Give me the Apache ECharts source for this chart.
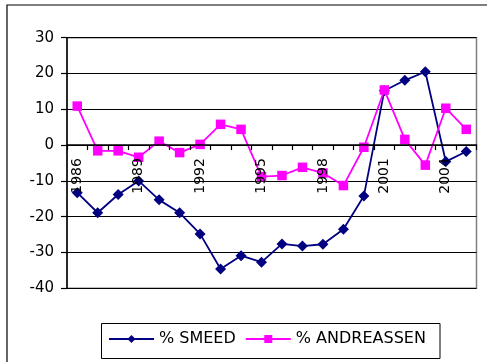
<!DOCTYPE html>
<html>
<head>
<meta charset="utf-8">
<script src="https://cdn.jsdelivr.net/npm/echarts@6/dist/echarts.min.js"></script>
<style>
  html, body { margin: 0; padding: 0; background: #fff; }
  #chart { width: 487px; height: 362px; }
</style>
</head>
<body>
<div id="chart"></div>
<script>
// Years on the category axis
var years = ['1986', '1987', '1988', '1989', '1990', '1991', '1992', '1993', '1994', '1995',
             '1996', '1997', '1998', '1999', '2000', '2001', '2002', '2003', '2004', '2005'];

// Percentage series
var smeed = [-13.3, -18.9, -13.8, -10.0, -15.3, -18.9, -24.8, -34.6, -30.9, -32.7,
             -27.6, -28.2, -27.7, -23.5, -14.2, 15.2, 18.1, 20.5, -4.6, -1.8];
var andreassen = [10.9, -1.6, -1.6, -3.4, 1.1, -2.1, 0.2, 5.8, 4.4, -8.8,
                  -8.5, -6.2, -7.8, -11.3, -0.6, 15.4, 1.6, -5.6, 10.3, 4.4];

// Value axis range
var yMin = -40, yMax = 30, yStep = 10;

var FONT = 'DejaVu Sans, Liberation Sans, Arial, sans-serif';

var GRID_TOP = 37.7, GRID_BOTTOM = 73.7, CHART_H = 362;
var plotH = CHART_H - GRID_TOP - GRID_BOTTOM;
// distance of the zero line above the bottom edge of the plot
var zeroLift = plotH * (0 - yMin) / (yMax - yMin);

var chart = echarts.init(document.getElementById('chart'), null, { renderer: 'canvas' });

chart.setOption({
  animation: false,
  backgroundColor: '#ffffff',
  textStyle: { fontFamily: FONT },
  grid: { left: 67, right: 10.5, top: GRID_TOP, bottom: GRID_BOTTOM, show: true,
          borderColor: '#808080', borderWidth: 1.5, backgroundColor: 'transparent' },
  graphic: [
    { type: 'rect', z: 0, shape: { x: 7, y: 5, width: 490, height: 370 },
      style: { fill: 'none', stroke: '#000', lineWidth: 1.2 } },
    { type: 'rect', z: 0, shape: { x: 101.5, y: 323.5, width: 338.5, height: 35 },
      style: { fill: '#fff', stroke: '#000', lineWidth: 1 } }
  ],
  legend: {
    left: 108, top: 331, itemGap: 9, itemWidth: 45, itemHeight: 10,
    padding: 0,
    textStyle: { fontFamily: FONT, fontSize: 16, color: '#000' },
    data: ['% SMEED', '% ANDREASSEN']
  },
  xAxis: {
    type: 'category',
    data: years,
    boundaryGap: true,
    z: 5,
    offset: -zeroLift,
    axisLine: { onZero: false, lineStyle: { color: '#000', width: 1.5 } },
    axisTick: { show: true, interval: 0, length: 5, lineStyle: { color: '#000', width: 1.2 } },
    axisLabel: { interval: 2, rotate: 90, margin: 13, fontSize: 14, color: '#000', fontFamily: FONT },
    splitLine: { show: false }
  },
  yAxis: {
    type: 'value',
    min: yMin, max: yMax, interval: yStep,
    axisLine: { show: true, lineStyle: { color: '#000', width: 1.5 } },
    axisTick: { show: true, length: 6, lineStyle: { color: '#000', width: 1.2 } },
    axisLabel: { margin: 13, fontSize: 15, color: '#000', fontFamily: FONT },
    splitLine: { show: true, lineStyle: { color: '#000', width: 1 } }
  },
  series: [
    {
      name: '% SMEED', type: 'line', data: smeed,
      symbol: 'diamond', symbolSize: 11,
      lineStyle: { color: '#000080', width: 1.8 },
      itemStyle: { color: '#000080', borderWidth: 0 },
      z: 3
    },
    {
      name: '% ANDREASSEN', type: 'line', data: andreassen,
      symbol: 'rect', symbolSize: 9.5,
      lineStyle: { color: '#ff00ff', width: 1.8 },
      itemStyle: { color: '#ff00ff', borderWidth: 0 },
      z: 4
    }
  ]
});
</script>
</body>
</html>
